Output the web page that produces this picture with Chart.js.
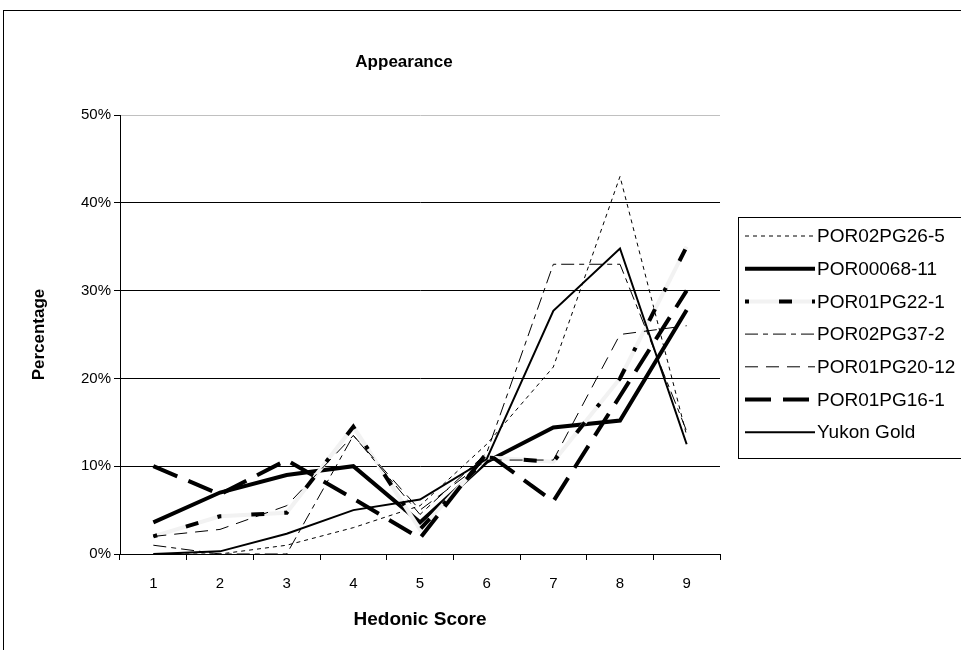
<!DOCTYPE html>
<html>
<head>
<meta charset="utf-8">
<title>Appearance</title>
<script src="https://cdn.jsdelivr.net/npm/chart.js@4.4.1/dist/chart.umd.min.js"></script>
<style>
  html, body { margin: 0; padding: 0; background: #fff; }
</style>
</head>
<body>
<canvas id="appearanceChart" width="961" height="650"></canvas>
<script>
// Hedonic scores (x axis) and percentage ticks (y axis)
const scores = ['1', '2', '3', '4', '5', '6', '7', '8', '9'];
const yTicks = [0, 10, 20, 30, 40, 50];

// Percentage of panelists per score
const por02pg26_5  = [0, 0, 1, 3, 5.5, 12.5, 21.3, 43, 13.5];
const por00068_11  = [3.6, 7, 9, 10, 3.6, 10.5, 14.4, 15.2, 27.8];
const por01pg22_1  = [2, 4.3, 4.7, 14.5, 2.8, 11, 10.5, 20, 35];
const por02pg37_2  = [1, 0, 0, 13.5, 4.5, 11.5, 33, 33, 14];
const por01pg20_12 = [2, 2.8, 5.5, 13.5, 5, 10.7, 10.7, 25, 26];
const por01pg16_1  = [10, 6.8, 10.7, 6.3, 1.8, 11.5, 6, 18, 30];
const yukonGold    = [0, 0.3, 2.3, 5, 6.2, 10.8, 27.7, 34.8, 12.5];

const FONT = "'Liberation Sans', Arial, sans-serif";

function line(label, data, width, dash, order) {
    return {
        label: label,
        data: data,
        borderColor: '#000',
        borderWidth: width,
        borderDash: dash,
        borderCapStyle: 'butt',
        borderJoinStyle: 'miter',
        pointRadius: 0,
        pointHoverRadius: 0,
        tension: 0,
        fill: false,
        order: order
    };
}

// near-white under-stroke for the black/white dashed series
var under22 = line('', por01pg22_1, 4, [], 11);
under22.borderColor = '#f2f2f2';
under22.helper = true;

// outer frame + title
const framePlugin = {
    id: 'frame',
    beforeDraw(chart) {
        const ctx = chart.ctx;
        ctx.save();
        ctx.fillStyle = '#fff';
        ctx.fillRect(0, 0, chart.width, chart.height);
        ctx.strokeStyle = '#000';
        ctx.lineWidth = 1;
        ctx.strokeRect(3.5, 10.5, 1200, 1200);
        ctx.restore();
    },
    afterDraw(chart) {
        const ctx = chart.ctx;
        ctx.save();
        ctx.fillStyle = '#000';
        ctx.font = 'bold 17px ' + FONT;
        ctx.textAlign = 'center';
        ctx.textBaseline = 'middle';
        ctx.fillText('Appearance', 404, 62);
        ctx.restore();
    }
};

// boxed legend on the right, line samples like the plot
const legendPlugin = {
    id: 'boxLegend',
    afterDraw(chart) {
        const ctx = chart.ctx;
        const items = chart.data.datasets.filter(d => !d.helper);
        ctx.save();
        ctx.fillStyle = '#fff';
        ctx.fillRect(738.5, 217.5, 300, 241);
        ctx.strokeStyle = '#000';
        ctx.lineWidth = 1;
        ctx.strokeRect(738.5, 217.5, 300, 241);
        ctx.font = '19px ' + FONT;
        ctx.textBaseline = 'middle';
        ctx.textAlign = 'left';
        items.forEach(function (ds, i) {
            const y = 236 + i * 32.7;
            if (ds.label === 'POR01PG22-1') {
                ctx.setLineDash([]);
                ctx.strokeStyle = '#f2f2f2';
                ctx.lineWidth = ds.borderWidth;
                ctx.beginPath(); ctx.moveTo(745, y); ctx.lineTo(815, y); ctx.stroke();
            }
            ctx.setLineDash(ds.borderDash || []);
            ctx.strokeStyle = '#000';
            ctx.lineWidth = ds.borderWidth;
            ctx.lineCap = 'butt';
            ctx.beginPath(); ctx.moveTo(745, y); ctx.lineTo(815, y); ctx.stroke();
            ctx.setLineDash([]);
            ctx.fillStyle = '#000';
            ctx.fillText(ds.label, 817, y + 1);
        });
        ctx.restore();
    }
};

new Chart(document.getElementById('appearanceChart').getContext('2d'), {
    type: 'line',
    data: {
        labels: scores,
        datasets: [
            line('POR02PG26-5', por02pg26_5, 1, [4, 4], 14),
            line('POR00068-11', por00068_11, 4, [], 12),
            line('POR01PG22-1', por01pg22_1, 4, [4, 30, 13, 20], 10),
            line('POR02PG37-2', por02pg37_2, 1, [13, 5, 5, 5], 8),
            line('POR01PG20-12', por01pg20_12, 1, [13, 8], 6),
            line('POR01PG16-1', por01pg16_1, 4, [26, 12], 4),
            line('Yukon Gold', yukonGold, 2, [], 2),
            under22
        ]
    },
    options: {
        responsive: false,
        animation: false,
        devicePixelRatio: 1,
        layout: { padding: { top: 115, right: 241, bottom: 0, left: 0 } },
        plugins: {
            legend: { display: false },
            title: { display: false },
            tooltip: { enabled: false }
        },
        scales: {
            x: {
                offset: true,
                afterFit: function (s) { s.height = 96; },
                grid: { offset: true, drawOnChartArea: false, tickLength: 6, color: '#000' },
                border: { color: '#000', width: 1 },
                ticks: { color: '#000', font: { family: FONT, size: 15 }, padding: 15, maxRotation: 0 },
                title: {
                    display: true, text: 'Hedonic Score', color: '#000',
                    font: { family: FONT, size: 19, weight: 'bold' },
                    padding: { top: 0, bottom: 19 }
                }
            },
            y: {
                min: yTicks[0],
                max: yTicks[yTicks.length - 1],
                afterFit: function (s) { s.width = 120; },
                afterBuildTicks: function (s) { s.ticks = yTicks.map(v => ({ value: v })); },
                grid: {
                    tickLength: 6,
                    tickColor: '#000',
                    color: ctx => (ctx.tick && ctx.tick.value === 50) ? '#c0c0c0' : '#000'
                },
                border: { color: '#000', width: 1 },
                ticks: {
                    color: '#000', padding: 3,
                    font: { family: FONT, size: 15 },
                    callback: v => v + '%'
                },
                title: {
                    display: true, text: 'Percentage', color: '#000',
                    font: { family: FONT, size: 17, weight: 'bold' },
                    padding: { top: 29, bottom: 0 }
                }
            }
        }
    },
    plugins: [framePlugin, legendPlugin]
});
</script>
</body>
</html>
